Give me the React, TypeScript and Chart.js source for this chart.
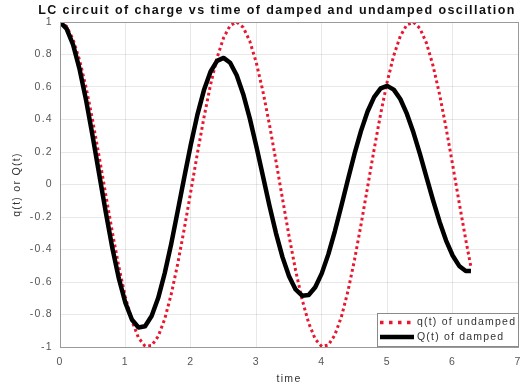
import React, { useEffect, useRef } from "react";
import { Chart, registerables } from "chart.js";

Chart.register(...registerables);

const titleText = "LC circuit of charge vs time of damped and undamped oscillation";
const xLabel = "time";
const yLabel = "q(t) or Q(t)";

const times = [
  0, 0.1, 0.2, 0.3, 0.4, 0.5, 0.6, 0.7, 0.8, 0.9,
  1.0, 1.1, 1.2, 1.3, 1.4, 1.5, 1.6, 1.7, 1.8, 1.9,
  2.0, 2.1, 2.2, 2.3, 2.4, 2.5, 2.6, 2.7, 2.8, 2.9,
  3.0, 3.1, 3.2, 3.3, 3.4, 3.5, 3.6, 3.7, 3.8, 3.9,
  4.0, 4.1, 4.2, 4.3, 4.4, 4.5, 4.6, 4.7, 4.8, 4.9,
  5.0, 5.1, 5.2, 5.3, 5.4, 5.5, 5.6, 5.7, 5.8, 5.9,
  6.0, 6.1, 6.2, 6.28,
];
const undamped = [
  1.0, 0.973, 0.893, 0.764, 0.594, 0.392, 0.168, -0.064, -0.294, -0.508,
  -0.693, -0.841, -0.944, -0.995, -0.991, -0.935, -0.828, -0.675, -0.486, -0.27,
  -0.04, 0.192, 0.413, 0.613, 0.78, 0.903, 0.978, 1.0, 0.967, 0.882,
  0.749, 0.575, 0.37, 0.145, -0.088, -0.317, -0.528, -0.708, -0.853, -0.951,
  -0.997, -0.988, -0.926, -0.814, -0.657, -0.465, -0.247, -0.016, 0.216, 0.435,
  0.632, 0.794, 0.913, 0.983, 0.999, 0.961, 0.87, 0.732, 0.555, 0.348,
  0.121, -0.112, -0.339, -0.509,
];
const damped = [
  1.0, 0.959, 0.86, 0.708, 0.516, 0.295, 0.061, -0.172, -0.391, -0.58,
  -0.729, -0.832, -0.88, -0.872, -0.809, -0.699, -0.546, -0.364, -0.161, 0.046,
  0.248, 0.43, 0.581, 0.694, 0.761, 0.779, 0.749, 0.672, 0.556, 0.407,
  0.236, 0.054, -0.129, -0.299, -0.447, -0.565, -0.646, -0.684, -0.68, -0.632,
  -0.547, -0.43, -0.288, -0.131, 0.031, 0.188, 0.33, 0.449, 0.538, 0.591,
  0.607, 0.584, 0.526, 0.436, 0.321, 0.188, 0.046, -0.096, -0.229, -0.345,
  -0.437, -0.501, -0.532, -0.533,
];

const legendLabels = ["q(t) of undamped", "Q(t) of damped"];
const xRange = [0, 7];
const yRange = [-1, 1];
const xStep = 1;
const yStep = 0.2;

const RED = "#e8162e";
const FONT = '"Liberation Sans", Arial, sans-serif';

const framePlugin = {
  id: "frame",
  beforeDraw(chart: any) {
    const ctx = chart.ctx;
    ctx.save();
    ctx.fillStyle = "#ffffff";
    ctx.fillRect(0, 0, chart.width, chart.height);
    ctx.restore();
    (ctx as any).letterSpacing = "1.3px";
  },
  afterDraw(chart: any) {
    const ctx = chart.ctx;
    const a = chart.chartArea;
    ctx.save();
    // axes box
    ctx.strokeStyle = "#9a9a9a";
    ctx.lineWidth = 1;
    ctx.strokeRect(Math.round(a.left) + 0.5, Math.round(a.top) + 0.5, Math.round(a.right - a.left), Math.round(a.bottom - a.top));

    // title
    (ctx as any).letterSpacing = "0px";
    ctx.font = "bold 12.5px " + FONT;
    const w = ctx.measureText(titleText).width;
    const spacing = Math.max(0, (478 - w) / titleText.length);
    (ctx as any).letterSpacing = spacing.toFixed(2) + "px";
    ctx.fillStyle = "#111111";
    ctx.textAlign = "center";
    ctx.textBaseline = "middle";
    ctx.fillText(titleText, 277, 11);

    // legend
    (ctx as any).letterSpacing = "1.2px";
    const lx = 377, ly = 313, lr = Math.round(a.right), lb = Math.round(a.bottom) - 1;
    ctx.fillStyle = "#ffffff";
    ctx.fillRect(lx, ly, lr - lx, lb - ly);
    ctx.strokeStyle = "#8a8a8a";
    ctx.lineWidth = 1;
    ctx.strokeRect(lx + 0.5, ly + 0.5, lr - lx, lb - ly);
    const rows = [ly + 9.5, ly + 24];
    const ds = chart.data.datasets;
    const order = [1, 0];
    order.forEach((di: number, i: number) => {
      const d = ds[di];
      const y = rows[i];
      ctx.save();
      ctx.strokeStyle = d.borderColor;
      ctx.lineWidth = di === 1 ? 3.5 : 4.5;
      ctx.setLineDash(di === 1 ? [3.5, 5.5] : []);
      ctx.lineCap = "butt";
      ctx.beginPath();
      ctx.moveTo(380, y);
      ctx.lineTo(414, y);
      ctx.stroke();
      ctx.restore();
      ctx.font = "10.5px " + FONT;
      ctx.fillStyle = "#333333";
      ctx.textAlign = "left";
      ctx.textBaseline = "middle";
      ctx.fillText(legendLabels[i], 417, y);
    });
    ctx.restore();
  },
};

export default function App() {
  const ref = useRef<HTMLCanvasElement | null>(null);

  useEffect(() => {
    document.body.style.margin = "0";
    const canvas = ref.current;
    if (!canvas) return;
    const chart = new Chart(canvas, {
      type: "line",
      data: {
        datasets: [
          {
            label: legendLabels[1],
            data: times.map((t, i) => ({ x: t, y: damped[i] })),
            borderColor: "#000000",
            borderWidth: 4.5,
            pointRadius: 0,
            tension: 0,
            order: 0,
            borderJoinStyle: "round",
          },
          {
            label: legendLabels[0],
            data: times.map((t, i) => ({ x: t, y: undamped[i] })),
            borderColor: RED,
            borderWidth: 3,
            borderDash: [2.8, 3],
            pointRadius: 0,
            tension: 0,
            order: 1,
          },
        ],
      },
      options: {
        responsive: false,
        animation: false,
        layout: { padding: { top: 22, right: 11, left: 0, bottom: 0 } },
        plugins: {
          legend: { display: false },
          title: { display: false },
          tooltip: { enabled: false },
        },
        scales: {
          x: {
            type: "linear",
            min: xRange[0],
            max: xRange[1],
            ticks: {
              stepSize: xStep,
              color: "#555555",
              font: { family: FONT, size: 10.5 },
              padding: 9,
              maxRotation: 0,
            },
            grid: { color: "rgba(0,0,0,0.09)", drawTicks: false },
            border: { display: false },
            title: {
              display: true,
              text: xLabel,
              color: "#333333",
              font: { family: FONT, size: 10.5 },
              padding: { top: 0, bottom: 4.5 },
            },
            afterFit: (s: any) => {
              s.height = 43;
            },
          },
          y: {
            type: "linear",
            min: yRange[0],
            max: yRange[1],
            ticks: {
              stepSize: yStep,
              color: "#555555",
              font: { family: FONT, size: 10.5 },
              padding: 7,
              callback: (v: any) => String(Number(Number(v).toFixed(1))),
            },
            grid: { color: "rgba(0,0,0,0.09)", drawTicks: false },
            border: { display: false },
            title: {
              display: true,
              text: yLabel,
              color: "#333333",
              font: { family: FONT, size: 10.5 },
              padding: { top: 11, bottom: 0 },
            },
            afterFit: (s: any) => {
              s.width = 60;
            },
          },
        },
      },
      plugins: [framePlugin],
    } as any);
    return () => chart.destroy();
  }, []);

  return (
    <div style={{ width: 530, height: 390 }}>
      <canvas ref={ref} width={530} height={390} />
    </div>
  );
}
